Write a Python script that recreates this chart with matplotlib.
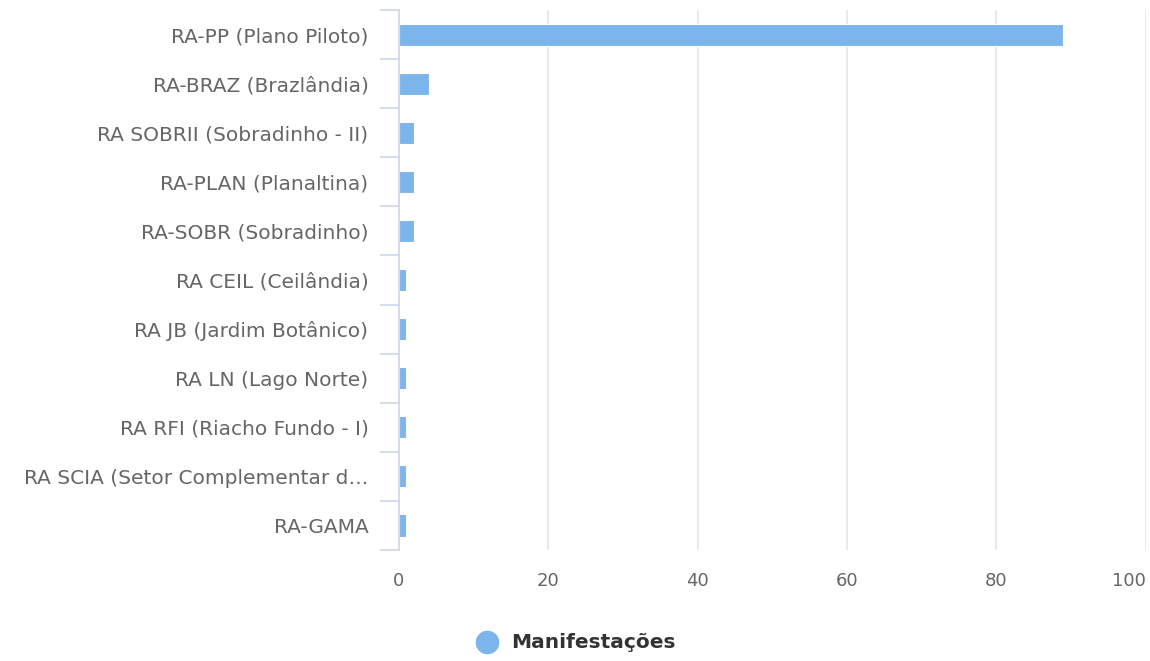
import matplotlib
matplotlib.use("Agg")
import matplotlib.pyplot as plt
from matplotlib.lines import Line2D

categories = [
    "RA-PP (Plano Piloto)",
    "RA-BRAZ (Brazlândia)",
    "RA SOBRII (Sobradinho - II)",
    "RA-PLAN (Planaltina)",
    "RA-SOBR (Sobradinho)",
    "RA CEIL (Ceilândia)",
    "RA JB (Jardim Botânico)",
    "RA LN (Lago Norte)",
    "RA RFI (Riacho Fundo - I)",
    "RA SCIA (Setor Complementar d…",
    "RA-GAMA",
]
values = [89, 4, 2, 2, 2, 1, 1, 1, 1, 1, 1]
xticks = [0, 20, 40, 60, 80, 100]
series_name = "Manifestações"

bar_color = "#7cb5ec"
label_color = "#666666"

W, H = 1150, 661
fig = plt.figure(figsize=(W / 100, H / 100), dpi=100)
ax = fig.add_axes([399 / W, 1 - 550 / H, (1145.5 - 399) / W, 540 / H])

ypos = list(range(len(categories)))
ax.barh(ypos, values, height=0.45, color=bar_color, edgecolor="white", linewidth=0.8, zorder=3)

ax.set_ylim(len(categories) - 0.5, -0.5)
ax.set_xlim(0, 100)

ax.set_yticks(ypos)
ax.set_yticklabels(categories, fontsize=14.5, color=label_color, family="DejaVu Sans")
ax.set_yticks([i - 0.5 for i in range(len(categories) + 1)], minor=True)
ax.tick_params(axis="y", which="major", length=0, pad=22)
ax.tick_params(axis="y", which="minor", length=14, width=1.2, color="#ccd6eb")

ax.set_xticks(xticks)
ax.set_xticklabels([str(t) for t in xticks], fontsize=13, color=label_color)
ax.tick_params(axis="x", length=0, pad=16)
labels = ax.get_xticklabels()
labels[-1].set_horizontalalignment("right")

ax.grid(axis="x", color="#e6e6e6", linewidth=1.2, zorder=0)
for s in ["top", "right", "bottom"]:
    ax.spines[s].set_visible(False)
ax.spines["left"].set_color("#ccd6eb")
ax.spines["left"].set_linewidth(1.2)
ax.spines["left"].set_zorder(4)

# legend
ly = 1 - 642 / H
fig.add_artist(Line2D([487 / W], [ly], marker="o", linestyle="", markersize=16,
                      markerfacecolor=bar_color, markeredgecolor=bar_color,
                      transform=fig.transFigure))
fig.text(511 / W, ly, series_name, fontsize=14.5, fontweight="bold", color="#333333",
         ha="left", va="center")

fig.savefig("out.png", dpi=100)
